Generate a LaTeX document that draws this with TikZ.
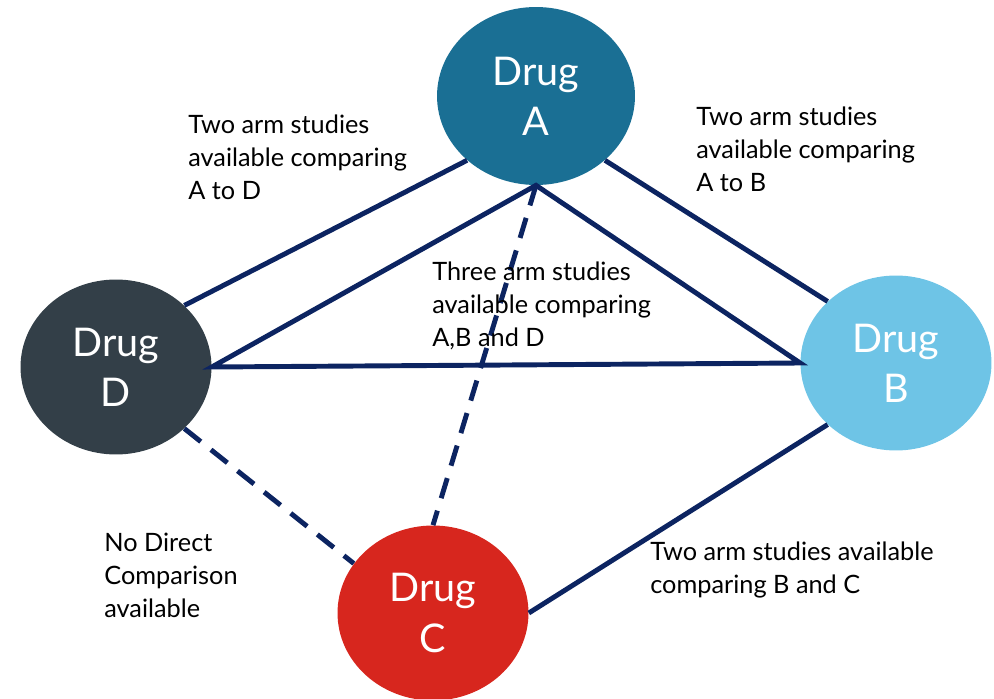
\documentclass[tikz,border=0pt]{standalone}
\usepackage{fontspec}
\setmainfont{Lato}
\usetikzlibrary{shapes.geometric}

\definecolor{drugA}{HTML}{1A6F94}
\definecolor{drugB}{HTML}{6EC4E6}
\definecolor{drugC}{HTML}{D7261E}
\definecolor{drugD}{HTML}{333F48}
\definecolor{linkblue}{HTML}{0C2461}

\begin{document}
\begin{tikzpicture}[x=0.02cm, y=-0.02cm,
    drug/.style={ellipse, minimum width=3.82cm, minimum height=3.5cm, inner sep=0pt, text=white, align=center, font=\fontsize{22.5}{28.5}\selectfont},
    link/.style={draw=linkblue, line width=2.8pt},
    nolink/.style={link, dash pattern=on 0.42cm off 0.26cm},
    note/.style={anchor=west, inner sep=0pt, align=left, font=\fontsize{14.4}{18.8}\selectfont}]

    \useasboundingbox (0,0) rectangle (994,699);

    % Drug A
    \node[drug, fill=drugA, minimum width=3.96cm, minimum height=3.56cm] (A) at (536,96) {Drug\\A};

    % Drug D
    \node[drug, fill=drugD] (D) at (116,367) {Drug\\D};

    % Drug B
    \node[drug, fill=drugB] (B) at (896,363) {Drug\\B};

    % Drug C
    \node[drug, fill=drugC] (C) at (433,613) {Drug\\C};

    % Connections
    \draw[link] (D.42) -- (A.223);
    \draw[link] (A.317) -- (B.138);
    \draw[link, line join=miter] (D.east) -- (A.south) -- (B.west) -- cycle;
    \draw[link] (B.222) -- (C.east);
    \draw[nolink] (A.south) -- (C.north);
    \draw[nolink] (D.318) -- (C.148);

    % Notes
    \node[note] (noteAD) at (188,157) {Two arm studies\\available comparing\\A to D};
    \node[note] (noteAB) at (696,149) {Two arm studies\\available comparing\\A to B};
    \node[note] (noteABD) at (432,306) {Three arm studies\\available comparing\\A,B and D};
    \node[note] (noteDC) at (104,575) {No Direct\\Comparison\\available};
    \node[note] (noteBC) at (650,570) {Two arm studies available\\comparing B and C};

\end{tikzpicture}
\end{document}
